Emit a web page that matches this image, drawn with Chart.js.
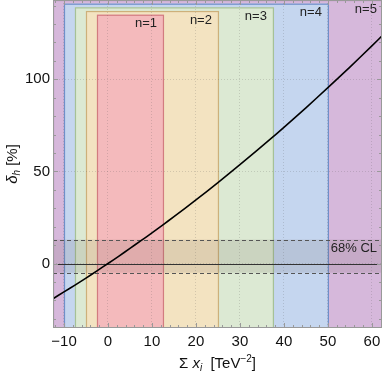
<!DOCTYPE html>
<html>
<head>
<meta charset="utf-8">
<script src="https://cdn.jsdelivr.net/npm/chart.js@4"></script>
<style>
  html, body { margin: 0; padding: 0; background: #fff; }
  #wrap { width: 382px; height: 376px; }
</style>
</head>
<body>
<div id="wrap"><canvas id="deltaChart"></canvas></div>
<script>
// curve
const sumX = [-12.5, -10, -7.5, -5, -2.5, 0, 2.5, 5, 7.5, 10, 12.5, 15, 20, 25, 30, 37.5, 40, 45, 50, 55, 60, 62.5];
const deltaH = [-19.1, -15.4, -11.7, -7.9, -4.0, 0, 4.0, 8.2, 12.4, 16.6, 21.0, 25.4, 34.5, 43.9, 53.6, 68.7, 73.9, 84.5, 95.4, 106.6, 118.1, 124.0];

// n-regions (n = 1..5)
const regionNames = ['n=1', 'n=2', 'n=3', 'n=4', 'n=5'];
const regionLeft = [-2.5, -5, -7.5, -10, -12.5];
const regionRight = [12.5, 25, 37.5, 50, 62.5];
const regionTop = [135, 137, 139, 141, 143];
const regionFill = ['#f4babc', '#f3e3c1', '#dce9d3', '#c5d6ef', '#d6b8db'];
const regionEdge = ['#d27c80', '#cdb07a', '#a6c196', '#6f8fc9', '#a074a8'];

// 68% CL band
const clLow = -5;
const clHigh = 13;

const xTicks = [-10, 0, 10, 20, 30, 40, 50, 60];
const yTicks = [0, 50, 100];

const FONT = '"Liberation Sans", Arial, sans-serif';

function fmt(v) {
  return v < 0 ? '\u2212' + Math.abs(v) : String(v);
}

function drawPieces(ctx, pieces, x, y) {
  let w = 0;
  pieces.forEach(p => { ctx.font = p.f; w += ctx.measureText(p.t).width; });
  let cx = x - w / 2;
  pieces.forEach(p => {
    ctx.font = p.f;
    ctx.fillText(p.t, cx, y + (p.dy || 0));
    cx += ctx.measureText(p.t).width;
  });
}

const regionsPlugin = {
  id: 'regions',
  beforeDraw(chart) {
    const { ctx, chartArea: a, scales: { x, y } } = chart;
    ctx.save();
    ctx.beginPath();
    ctx.rect(a.left, a.top, a.right - a.left, a.bottom - a.top);
    ctx.clip();
    for (let i = regionNames.length - 1; i >= 0; i--) {
      const l = x.getPixelForValue(regionLeft[i]);
      const r = x.getPixelForValue(regionRight[i]);
      const t = y.getPixelForValue(regionTop[i]);
      const b = a.bottom + 5;
      ctx.fillStyle = regionFill[i];
      ctx.fillRect(l, t, r - l, b - t);
      ctx.strokeStyle = regionEdge[i];
      ctx.lineWidth = 1.2;
      ctx.strokeRect(l + 0.5, t + 0.5, r - l, b - t);
    }
    ctx.restore();
  },
  beforeDatasetsDraw(chart) {
    const { ctx, chartArea: a, scales: { x, y } } = chart;
    const hi = y.getPixelForValue(clHigh);
    const lo = y.getPixelForValue(clLow);
    const zero = y.getPixelForValue(0);
    ctx.save();
    ctx.fillStyle = 'rgba(90,80,70,0.13)';
    ctx.fillRect(a.left, hi, a.right - a.left, lo - hi);
    ctx.strokeStyle = '#555';
    ctx.lineWidth = 1;
    ctx.setLineDash([4, 3]);
    [hi, lo].forEach(p => {
      ctx.beginPath();
      ctx.moveTo(a.left, Math.round(p) + 0.5);
      ctx.lineTo(a.right, Math.round(p) + 0.5);
      ctx.stroke();
    });
    ctx.setLineDash([]);
    ctx.strokeStyle = '#333';
    ctx.beginPath();
    ctx.moveTo(a.left, Math.round(zero) + 0.5);
    ctx.lineTo(a.right, Math.round(zero) + 0.5);
    ctx.stroke();
    ctx.fillStyle = '#222';
    ctx.font = '13px ' + FONT;
    ctx.textAlign = 'right';
    ctx.textBaseline = 'middle';
    ctx.fillText('68% CL', a.right - 5, y.getPixelForValue(8));
    ctx.restore();
  },
  afterDraw(chart) {
    const { ctx, chartArea: a, scales: { x, y } } = chart;
    ctx.save();
    // region labels
    ctx.fillStyle = '#222';
    ctx.font = '13px ' + FONT;
    ctx.textAlign = 'right';
    ctx.textBaseline = 'middle';
    for (let i = 0; i < regionNames.length; i++) {
      const r = Math.min(x.getPixelForValue(regionRight[i]), a.right + 1);
      ctx.fillText(regionNames[i], r - 6, y.getPixelForValue(regionTop[i]) + 9);
    }
    // frame + inward ticks
    ctx.strokeStyle = '#999';
    ctx.lineWidth = 1;
    ctx.strokeRect(a.left + 0.5, a.top + 0.5, a.right - a.left - 1, a.bottom - a.top - 1);
    ctx.beginPath();
    for (let v = -12; v <= 62; v += 2) {
      const px = Math.round(x.getPixelForValue(v)) + 0.5;
      const len = v % 10 === 0 ? 5 : 3;
      ctx.moveTo(px, a.bottom); ctx.lineTo(px, a.bottom - len);
      ctx.moveTo(px, a.top); ctx.lineTo(px, a.top + len);
    }
    for (let v = -30; v <= 140; v += 10) {
      const py = Math.round(y.getPixelForValue(v)) + 0.5;
      const len = v % 50 === 0 ? 5 : 3;
      ctx.moveTo(a.left, py); ctx.lineTo(a.left + len, py);
      ctx.moveTo(a.right, py); ctx.lineTo(a.right - len, py);
    }
    ctx.stroke();
    // axis titles
    ctx.fillStyle = '#111';
    ctx.textAlign = 'left';
    ctx.textBaseline = 'alphabetic';
    drawPieces(ctx, [
      { t: '\u03a3 ', f: '15px ' + FONT },
      { t: 'x', f: 'italic 15px ' + FONT },
      { t: 'i', f: 'italic 10px ' + FONT, dy: 3 },
      { t: '  [TeV', f: '15px ' + FONT },
      { t: '\u22122', f: '10px ' + FONT, dy: -6 },
      { t: ']', f: '15px ' + FONT }
    ], (a.left + a.right) / 2, 368);
    ctx.translate(17, (a.top + a.bottom) / 2);
    ctx.rotate(-Math.PI / 2);
    drawPieces(ctx, [
      { t: '\u03b4', f: 'italic 15px ' + FONT },
      { t: 'h', f: 'italic 10px ' + FONT, dy: 3 },
      { t: ' [%]', f: '15px ' + FONT }
    ], 0, 0);
    ctx.restore();
  }
};

const points = sumX.map((v, i) => ({ x: v, y: deltaH[i] }));

new Chart(document.getElementById('deltaChart'), {
  type: 'scatter',
  data: {
    datasets: [{
      data: points,
      showLine: true,
      borderColor: '#000',
      borderWidth: 1.6,
      pointRadius: 0,
      tension: 0.2
    }]
  },
  options: {
    responsive: true,
    maintainAspectRatio: false,
    animation: false,
    layout: { padding: 0 },
    plugins: { legend: { display: false }, tooltip: { enabled: false } },
    scales: {
      x: {
        type: 'linear',
        min: -12.5,
        max: 62.3,
        afterBuildTicks: s => { s.ticks = xTicks.map(v => ({ value: v })); },
        afterFit: s => { s.height = 48; s.paddingLeft = 0; s.paddingRight = 0; },
        ticks: {
          callback: v => fmt(v),
          autoSkip: false,
          maxRotation: 0,
          padding: 5,
          color: '#111',
          font: { family: FONT, size: 15 }
        },
        grid: { color: 'rgba(80,80,80,0.2)', drawTicks: false, lineWidth: 1 },
        border: { display: false, dash: [1, 2] }
      },
      y: {
        type: 'linear',
        min: -35,
        max: 143,
        afterBuildTicks: s => { s.ticks = yTicks.map(v => ({ value: v })); },
        afterFit: s => { s.width = 53; s.paddingTop = 0; s.paddingBottom = 0; },
        ticks: {
          callback: v => fmt(v),
          padding: 3,
          color: '#111',
          font: { family: FONT, size: 15 }
        },
        grid: { color: 'rgba(80,80,80,0.2)', drawTicks: false, lineWidth: 1 },
        border: { display: false, dash: [1, 2] }
      }
    }
  },
  plugins: [regionsPlugin]
});
</script>
</body>
</html>
